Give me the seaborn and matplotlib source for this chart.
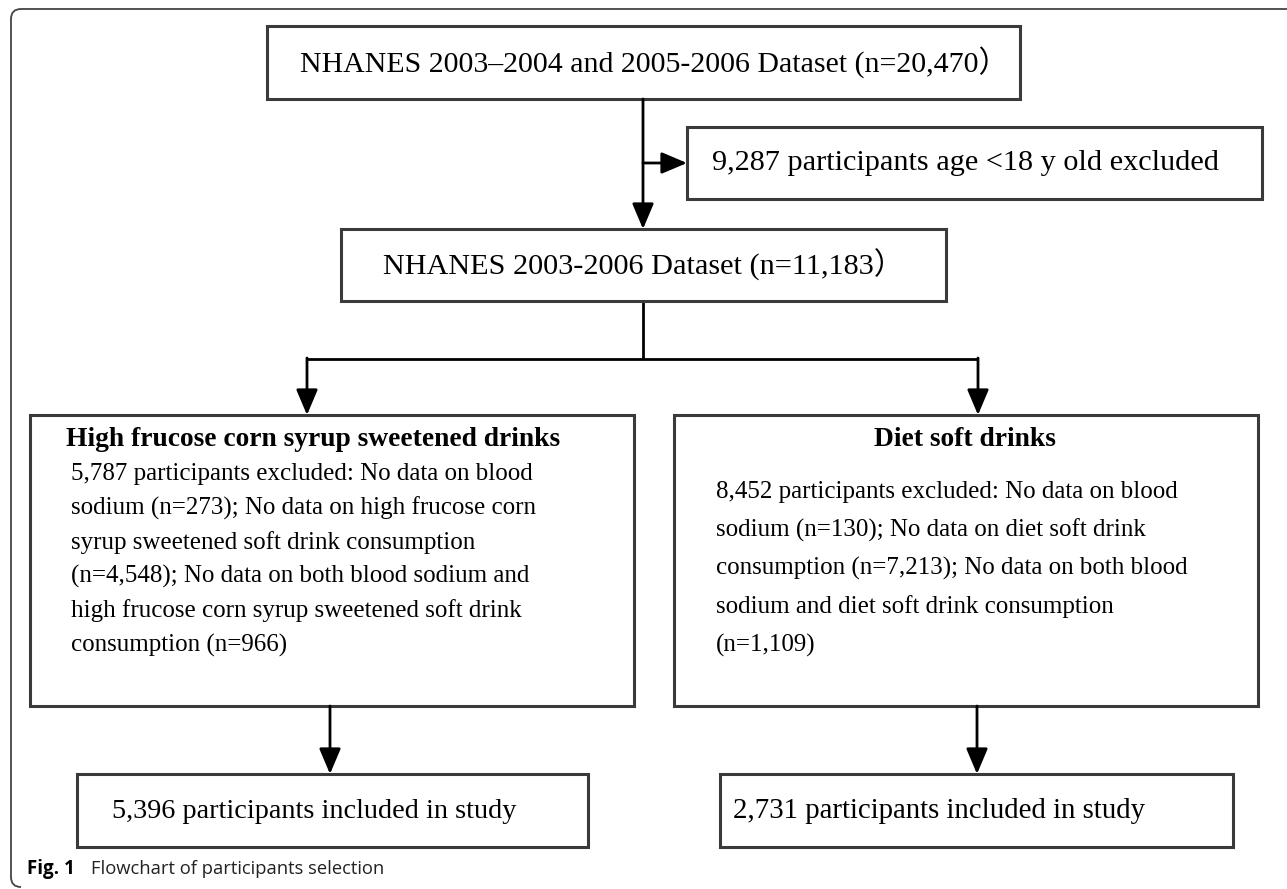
import matplotlib
matplotlib.use("Agg")
import matplotlib.pyplot as plt
import seaborn as sns
from matplotlib.patches import Rectangle
from matplotlib.path import Path
from matplotlib.patches import PathPatch

# ---- data (flowchart content) ----
top_text = "NHANES 2003\u20132004 and 2005-2006 Dataset (n=20,470\uff09"
excluded_age_text = "9,287 participants age <18 y old excluded"
mid_text = "NHANES 2003-2006 Dataset (n=11,183\uff09"
left_title = "High frucose corn syrup sweetened drinks"
left_body = [
    "5,787 participants excluded: No data on blood",
    "sodium (n=273); No data on high frucose corn",
    "syrup sweetened soft drink consumption",
    "(n=4,548); No data on both blood sodium and",
    "high frucose corn syrup sweetened soft drink",
    "consumption (n=966)",
]
right_title = "Diet soft drinks"
right_body = [
    "8,452 participants excluded: No data on blood",
    "sodium (n=130); No data on diet soft drink",
    "consumption (n=7,213); No data on both blood",
    "sodium and diet soft drink consumption",
    "(n=1,109)",
]
left_final = "5,396 participants included in study"
right_final = "2,731 participants included in study"
caption_bold = "Fig. 1"
caption_text = "Flowchart of participants selection"

sns.set_theme(style="white")
SERIF = ["Liberation Serif", "Noto Sans CJK SC", "DejaVu Serif"]
plt.rcParams["font.family"] = SERIF
plt.rcParams["text.color"] = "black"

W, H = 1287, 889
fig = plt.figure(figsize=(W / 100, H / 100), dpi=100)
ax = fig.add_axes([0, 0, 1, 1])
ax.set_xlim(0, W)
ax.set_ylim(H, 0)
ax.axis("off")

EDGE = "#3a3a3a"


def box(x0, y0, x1, y1):
    ax.add_patch(Rectangle((x0, y0), x1 - x0, y1 - y0, fill=False,
                           edgecolor=EDGE, linewidth=2.2, zorder=3))


def line(xs, ys):
    ax.plot(xs, ys, color="black", linewidth=2.0, solid_capstyle="butt",
            zorder=2)


def arrow(x0, y0, x1, y1):
    ax.annotate("", xy=(x1, y1), xytext=(x0, y0),
                arrowprops=dict(arrowstyle="-|>,head_length=1.3,head_width=0.55",
                                color="black", lw=2.0, shrinkA=0, shrinkB=0),
                zorder=4)


# outer frame (rounded, open on right and bottom)
r = 10
verts = [(W + 5, 9), (11 + r, 9), (11, 9), (11, 9 + r), (11, H - r - 2),
         (11, H - 2), (11 + r, H - 2)]
codes = [Path.MOVETO, Path.LINETO, Path.CURVE3, Path.CURVE3, Path.LINETO,
         Path.CURVE3, Path.CURVE3]
ax.add_patch(PathPatch(Path(verts, codes), fill=False, edgecolor="#444444",
                       linewidth=1.3, zorder=1))

# boxes
box(267, 26, 1020, 99)
box(687, 127, 1262, 199)
box(341, 229, 946, 301)
box(30, 415, 634, 706)
box(674, 415, 1258, 706)
box(77, 774, 588, 847)
box(720, 774, 1233, 847)

# connectors
arrow(643, 99, 643, 229)
arrow(643, 163, 687, 163)
line([643, 643], [301, 359])
line([307, 978], [359, 359])
arrow(307, 358, 307, 415)
arrow(978, 358, 978, 415)
arrow(330, 706, 330, 774)
arrow(977, 706, 977, 774)

# texts
BODY = 18
TITLE = 19.8
ax.text(300, 62, top_text, fontsize=21.5, va="center", ha="left")
ax.text(712, 163, excluded_age_text, fontsize=21.8, va="center", ha="left")
ax.text(383, 265, mid_text, fontsize=21.8, va="center", ha="left")

ax.text(66, 440, left_title, fontsize=TITLE, fontweight="bold",
        va="center", ha="left")
for i, s in enumerate(left_body):
    ax.text(71, 474 + 34.2 * i, s, fontsize=BODY, va="center", ha="left")

ax.text(965, 440, right_title, fontsize=TITLE, fontweight="bold",
        va="center", ha="center")
for i, s in enumerate(right_body):
    ax.text(716, 492 + 38.3 * i, s, fontsize=BODY, va="center", ha="left")

ax.text(112, 811, left_final, fontsize=20.3, va="center", ha="left")
ax.text(733, 811, right_final, fontsize=20.8, va="center", ha="left")

ax.text(27, 869, caption_bold, fontsize=13.5, fontweight="bold",
        family=["Open Sans", "DejaVu Sans"], va="center", ha="left")
ax.text(91, 869, caption_text, fontsize=13.2,
        family=["Open Sans", "DejaVu Sans"], va="center", ha="left",
        color="#222222")

fig.savefig("out.png", dpi=100, facecolor="white")
